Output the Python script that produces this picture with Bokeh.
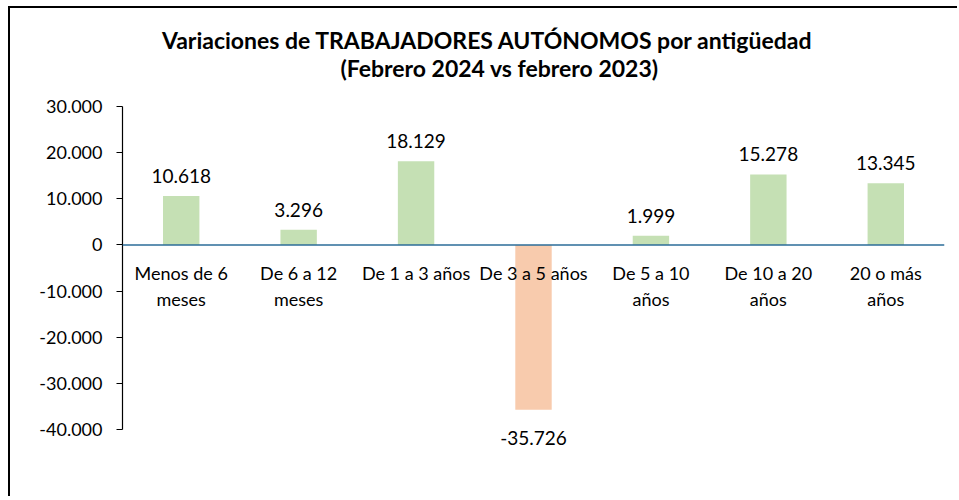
from bokeh.plotting import figure
from bokeh.models import (FactorRange, Range1d, Span, FixedTicker,
                          CustomJSTickFormatter, Label, ColumnDataSource)
from bokeh.core.properties import value
from bokeh.embed import file_html
from bokeh.resources import INLINE

# ---- data ----
categories = ["Menos de 6 meses", "De 6 a 12 meses", "De 1 a 3 años",
              "De 3 a 5 años", "De 5 a 10 años", "De 10 a 20 años",
              "20 o más años"]
label_line1 = ["Menos de 6", "De 6 a 12", "De 1 a 3 años", "De 3 a 5 años",
               "De 5 a 10", "De 10 a 20", "20 o más"]
label_line2 = ["meses", "meses", "", "", "años", "años", "años"]
variaciones = [10618, 3296, 18129, -35726, 1999, 15278, 13345]
y_ticks = [-40000, -30000, -20000, -10000, 0, 10000, 20000, 30000]
title_line1 = "Variaciones  de TRABAJADORES AUTÓNOMOS por antigüedad"
title_line2 = "(Febrero 2024 vs febrero 2023)"

POS_COLOR = "#C5E0B4"
NEG_COLOR = "#F8CBAD"
FONT = "Lato"


def fmt(v):
    return f"{v:,}".replace(",", ".")


colors = [POS_COLOR if v >= 0 else NEG_COLOR for v in variaciones]
src = ColumnDataSource(dict(cat=categories, val=variaciones, color=colors,
                            l1=label_line1, l2=label_line2))
pos_src = ColumnDataSource(dict(
    cat=[c for c, v in zip(categories, variaciones) if v >= 0],
    val=[v for v in variaciones if v >= 0],
    lab=[fmt(v) for v in variaciones if v >= 0]))
neg_src = ColumnDataSource(dict(
    cat=[c for c, v in zip(categories, variaciones) if v < 0],
    val=[v for v in variaciones if v < 0],
    lab=[fmt(v) for v in variaciones if v < 0]))

# frame spans the whole height; the axis itself is bounded to the tick range
p = figure(x_range=FactorRange(*categories, range_padding=0),
           y_range=Range1d(-54952, 51238),
           width=949, height=490, output_backend="svg", toolbar_location=None,
           min_border_left=112, min_border_right=15, min_border_top=0,
           min_border_bottom=0)
p.styles = {"border-left": "2px solid black", "border-top": "2px solid black",
            "margin-left": "8px", "margin-top": "6px"}
p.title = None

p.outline_line_color = None
p.xgrid.grid_line_color = None
p.ygrid.grid_line_color = None
p.xaxis.visible = False

ya = p.yaxis[0]
ya.ticker = FixedTicker(ticks=y_ticks)
ya.bounds = (y_ticks[0], y_ticks[-1])
ya.formatter = CustomJSTickFormatter(code=r"""
return tick.toFixed(0).replace(/\B(?=(\d{3})+(?!\d))/g, '.');
""")
ya.axis_line_color = "black"
ya.axis_line_width = 1.2
ya.major_tick_line_color = "black"
ya.major_tick_out = 6
ya.major_tick_in = 0
ya.minor_tick_line_color = None
ya.major_label_text_font = FONT
ya.major_label_text_font_size = "18px"
ya.major_label_text_color = "black"
ya.major_label_standoff = 14

# Title lines (screen pixels relative to the plot frame)
t1 = Label(x=368, y=459, x_units="screen", y_units="screen", text=title_line1,
           text_align="center", text_baseline="middle", text_font=FONT,
           text_font_size="23px", text_font_style="bold", text_color="black")
t2 = Label(x=377, y=431, x_units="screen", y_units="screen", text=title_line2,
           text_align="center", text_baseline="middle", text_font=FONT,
           text_font_size="23px", text_font_style="bold", text_color="black")

p.vbar(x="cat", top="val", bottom=0, width=0.31, fill_color="color",
       line_color=None, source=src)

p.add_layout(Span(location=0, dimension="width", line_color="#2B6C98",
                  line_width=1.5))

p.text(x="cat", y="val", text="lab", source=pos_src, text_align="center",
       text_baseline="middle", y_offset=-20, text_font=value(FONT),
       text_font_size="19px", text_color="black")
p.text(x="cat", y="val", text="lab", source=neg_src, text_align="center",
       text_baseline="middle", y_offset=28, text_font=value(FONT),
       text_font_size="19px", text_color="black")

p.text(x="cat", y=0, text="l1", source=src, text_align="center",
       text_baseline="middle", y_offset=28, text_font=value(FONT),
       text_font_size="18px", text_color="black")
p.text(x="cat", y=0, text="l2", source=src, text_align="center",
       text_baseline="middle", y_offset=54, text_font=value(FONT),
       text_font_size="18px", text_color="black")

p.add_layout(t1)
p.add_layout(t2)

open("out.html", "w").write(file_html(p, INLINE))
